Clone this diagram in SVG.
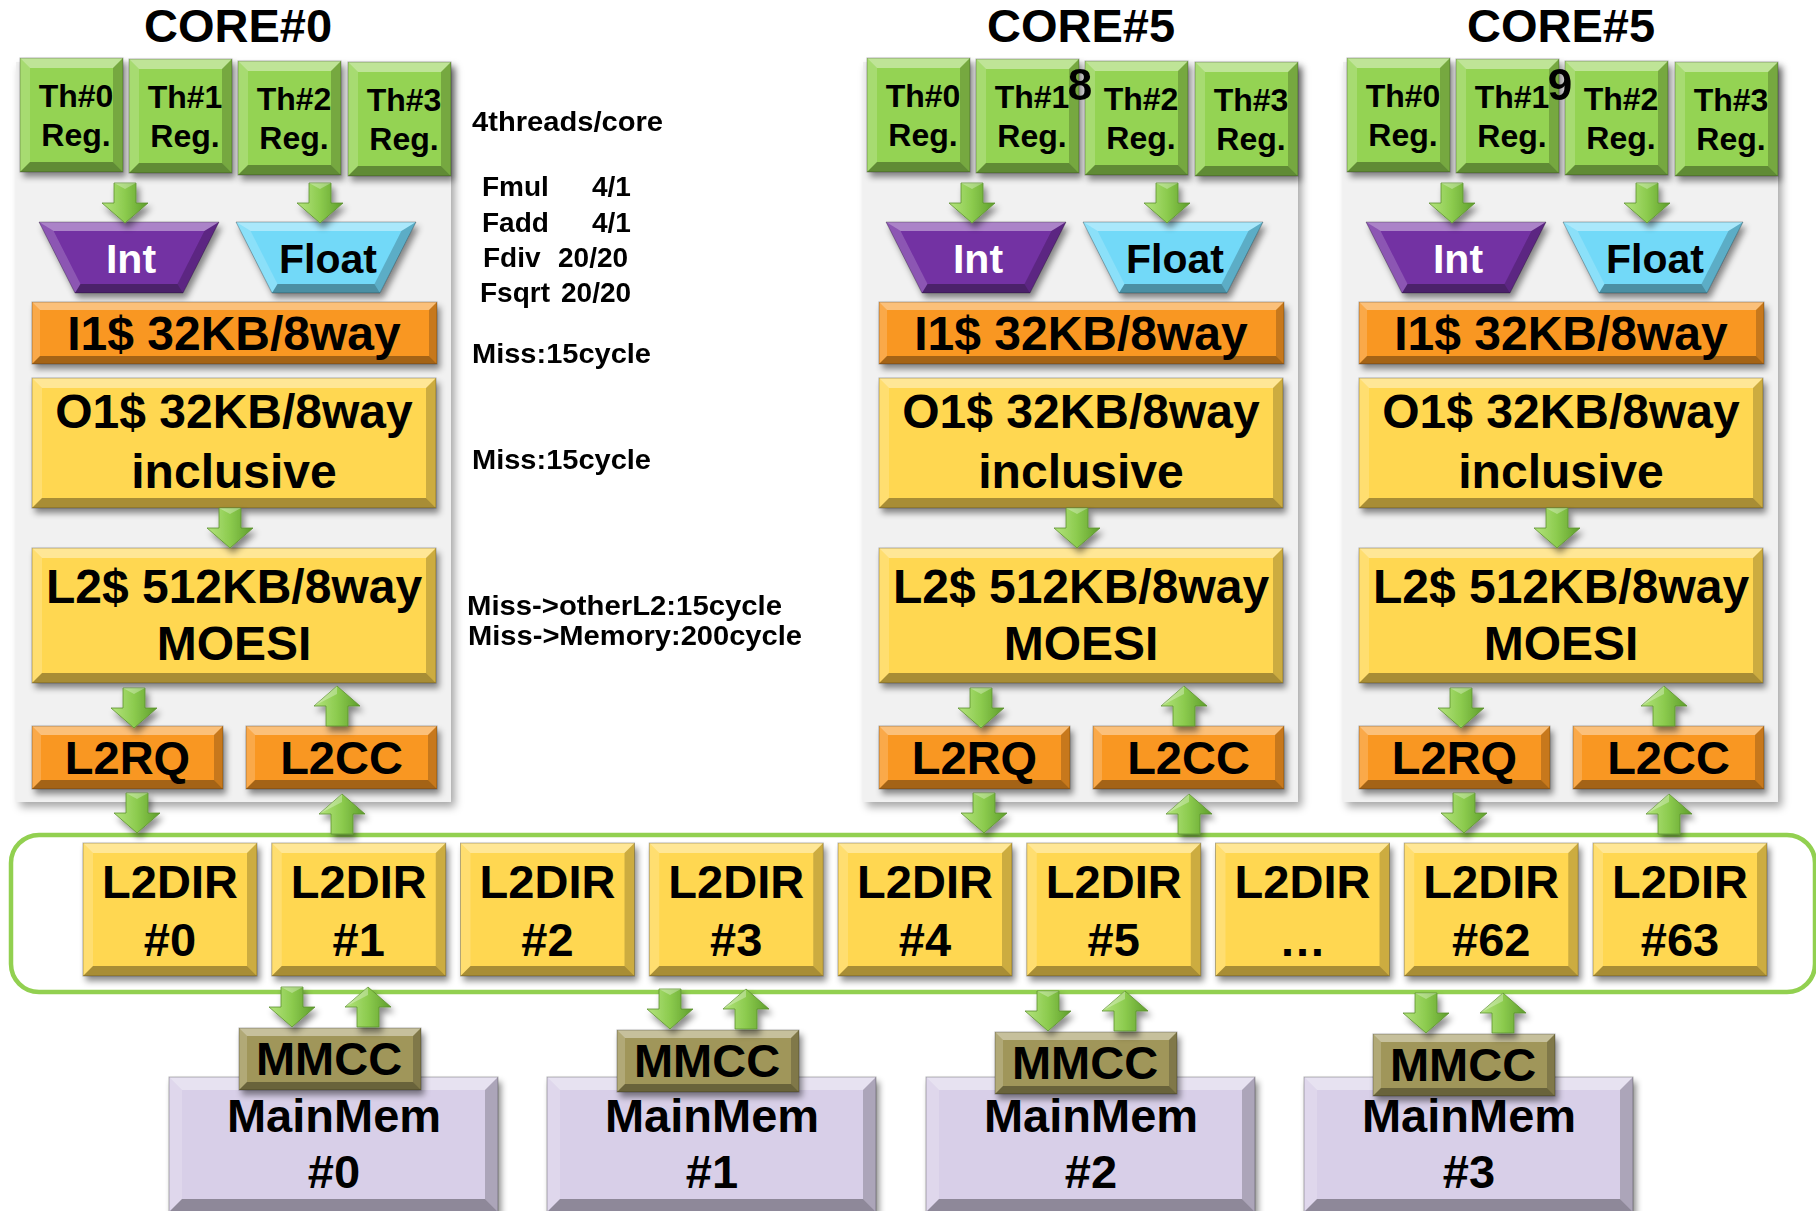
<svg xmlns="http://www.w3.org/2000/svg" width="1816" height="1211" viewBox="0 0 1816 1211">
<defs>
<style>
.t{font-family:"Liberation Sans",Arial,Helvetica,sans-serif;font-weight:bold;text-anchor:middle;fill:#000}
.n{font-family:"Liberation Sans",Arial,Helvetica,sans-serif;font-weight:bold;font-size:28px;fill:#000}
.f32{font-size:32px}.f41{font-size:41px}.f44{font-size:44px}.f47{font-size:47px}.f48{font-size:48px}
.w{fill:#fff}
.gr{fill:#94D352}.or{fill:#F99722}.ye{fill:#FFD751}.pu{fill:#7331A3}.cy{fill:#72D9F8}.olv{fill:#A0965A}.lv{fill:#D8CFE8}
.bt{fill:#fff;fill-opacity:.4}
.bl{fill:#fff;fill-opacity:.18}
.br{fill:#000;fill-opacity:.2}
.bb{fill:#000;fill-opacity:.34}
.ol{fill:none;stroke:#000;stroke-opacity:.28;stroke-width:1}
.panel{fill:#F1F1F1}
.bus{fill:none;stroke:#92D050;stroke-width:4.5}
.arr{fill:url(#ag);stroke:#5C8F2E;stroke-width:.8}
</style>
<filter id="sh" x="-10%" y="-10%" width="125%" height="135%"><feDropShadow dx="3" dy="5" stdDeviation="3" flood-color="#000" flood-opacity=".45"/></filter>
<filter id="psh" x="-5%" y="-5%" width="115%" height="112%"><feDropShadow dx="4" dy="5" stdDeviation="4" flood-color="#000" flood-opacity=".35"/></filter>
<linearGradient id="ag" x1="0" y1="0" x2="1" y2="0"><stop offset="0" stop-color="#B4E47E"/><stop offset=".5" stop-color="#8CCB4E"/><stop offset="1" stop-color="#5E9E2C"/></linearGradient>
<g id="adn"><polygon class="arr" points="-11,0 11,0 11,20 23,20 0,40 -23,20 -11,20"/><polygon points="-11,0 11,0 0,6" fill="#fff" fill-opacity=".3"/></g>
<g id="aup"><polygon class="arr" points="-11,0 11,0 11,-20 23,-20 0,-40 -23,-20 -11,-20"/><polygon points="-23,-20 0,-40 0,-32" fill="#fff" fill-opacity=".3"/></g>
<g id="thb"><rect width="103" height="114" class="gr"/><polygon class="bt" points="0,0 103,0 93,10 10,10"/><polygon class="bl" points="0,0 10,10 10,104 0,114"/><polygon class="br" points="103,0 103,114 93,104 93,10"/><polygon class="bb" points="0,114 10,104 93,104 103,114"/><rect width="103" height="114" class="ol"/></g>
<g id="intb"><polygon class="pu" points="0,0 180,0 144,71 36,71"/><polygon class="bt" points="0,0 180,0 165.4,9 14.6,9"/><polygon class="bl" points="0,0 14.6,9 41.5,62 36,71"/><polygon class="br" points="180,0 144,71 138.5,62 165.4,9"/><polygon class="bb" points="36,71 41.5,62 138.5,62 144,71"/><polygon class="ol" points="0,0 180,0 144,71 36,71"/></g>
<g id="fltb"><polygon class="cy" points="0,0 180,0 144,71 36,71"/><polygon class="bt" points="0,0 180,0 165.4,9 14.6,9"/><polygon class="bl" points="0,0 14.6,9 41.5,62 36,71"/><polygon class="br" points="180,0 144,71 138.5,62 165.4,9"/><polygon class="bb" points="36,71 41.5,62 138.5,62 144,71"/><polygon class="ol" points="0,0 180,0 144,71 36,71"/></g>
<g id="i1b"><rect width="405" height="62" class="or"/><polygon class="bt" points="0,0 405,0 397,8 8,8"/><polygon class="bl" points="0,0 8,8 8,54 0,62"/><polygon class="br" points="405,0 405,62 397,54 397,8"/><polygon class="bb" points="0,62 8,54 397,54 405,62"/><rect width="405" height="62" class="ol"/></g>
<g id="o1b"><rect width="404" height="130" class="ye"/><polygon class="bt" points="0,0 404,0 394,10 10,10"/><polygon class="bl" points="0,0 10,10 10,120 0,130"/><polygon class="br" points="404,0 404,130 394,120 394,10"/><polygon class="bb" points="0,130 10,120 394,120 404,130"/><rect width="404" height="130" class="ol"/></g>
<g id="l2b"><rect width="404" height="135" class="ye"/><polygon class="bt" points="0,0 404,0 394,10 10,10"/><polygon class="bl" points="0,0 10,10 10,125 0,135"/><polygon class="br" points="404,0 404,135 394,125 394,10"/><polygon class="bb" points="0,135 10,125 394,125 404,135"/><rect width="404" height="135" class="ol"/></g>
<g id="rqb"><rect width="191" height="63" class="or"/><polygon class="bt" points="0,0 191,0 182,9 9,9"/><polygon class="bl" points="0,0 9,9 9,54 0,63"/><polygon class="br" points="191,0 191,63 182,54 182,9"/><polygon class="bb" points="0,63 9,54 182,54 191,63"/><rect width="191" height="63" class="ol"/></g>
<g id="dirb"><rect width="174" height="133" class="ye"/><polygon class="bt" points="0,0 174,0 164,10 10,10"/><polygon class="bl" points="0,0 10,10 10,123 0,133"/><polygon class="br" points="174,0 174,133 164,123 164,10"/><polygon class="bb" points="0,133 10,123 164,123 174,133"/><rect width="174" height="133" class="ol"/></g>
<g id="mmb"><rect width="182" height="62" class="olv"/><polygon class="bt" points="0,0 182,0 174,8 8,8"/><polygon class="bl" points="0,0 8,8 8,54 0,62"/><polygon class="br" points="182,0 182,62 174,54 174,8"/><polygon class="bb" points="0,62 8,54 174,54 182,62"/><rect width="182" height="62" class="ol"/></g>
<g id="mainb"><rect width="329" height="135" class="lv"/><polygon class="bt" points="0,0 329,0 316,13 13,13"/><polygon class="bl" points="0,0 13,13 13,122 0,135"/><polygon class="br" points="329,0 329,135 316,122 316,13"/><polygon class="bb" points="0,135 13,122 316,122 329,135"/><rect width="329" height="135" class="ol"/></g>
</defs>
<rect width="1816" height="1211" fill="#fff"/>

<!-- core panels -->
<g id="panels">
<rect id="panel-core0" x="16" y="62" width="435" height="740" class="panel" filter="url(#psh)"/>
<rect id="panel-core5a" x="863" y="62" width="435" height="740" class="panel" filter="url(#psh)"/>
<rect id="panel-core5b" x="1343" y="62" width="435" height="740" class="panel" filter="url(#psh)"/>
</g>

<!-- titles -->
<g id="titles">
<text class="t f47" x="238" y="42">CORE#0</text>
<text class="t f47" x="1081" y="42">CORE#5</text>
<text class="t f47" x="1561" y="42">CORE#5</text>
</g>

<!-- CORE#0 -->
<g id="c0-th0"><use href="#thb" x="20" y="58" filter="url(#sh)"/><text class="t f32" x="76" y="107">Th#0</text><text class="t f32" x="76" y="146">Reg.</text></g>
<g id="c0-th1"><use href="#thb" x="129" y="59" filter="url(#sh)"/><text class="t f32" x="185" y="108">Th#1</text><text class="t f32" x="185" y="147">Reg.</text></g>
<g id="c0-th2"><use href="#thb" x="238" y="61" filter="url(#sh)"/><text class="t f32" x="294" y="110">Th#2</text><text class="t f32" x="294" y="149">Reg.</text></g>
<g id="c0-th3"><use href="#thb" x="348" y="62" filter="url(#sh)"/><text class="t f32" x="404" y="111">Th#3</text><text class="t f32" x="404" y="150">Reg.</text></g>
<g id="c0-int"><use href="#intb" x="39" y="222" filter="url(#sh)"/><text class="t f41 w" x="131" y="273">Int</text></g>
<g id="c0-float"><use href="#fltb" x="236" y="222" filter="url(#sh)"/><text class="t f41" x="328" y="273">Float</text></g>
<g id="c0-i1"><use href="#i1b" x="32" y="302" filter="url(#sh)"/><text class="t f48" x="234" y="350">I1$ 32KB/8way</text></g>
<g id="c0-o1"><use href="#o1b" x="32" y="378" filter="url(#sh)"/><text class="t f48" x="234" y="428">O1$ 32KB/8way</text><text class="t f48" x="234" y="488">inclusive</text></g>
<g id="c0-l2"><use href="#l2b" x="32" y="548" filter="url(#sh)"/><text class="t f48" x="234" y="603">L2$ 512KB/8way</text><text class="t f48" x="234" y="660">MOESI</text></g>
<g id="c0-l2rq"><use href="#rqb" x="32" y="726" filter="url(#sh)"/><text class="t f47" x="127.5" y="774">L2RQ</text></g>
<g id="c0-l2cc"><use href="#rqb" x="246" y="726" filter="url(#sh)"/><text class="t f47" x="341.5" y="774">L2CC</text></g>

<!-- CORE#5 (middle) -->
<g id="c5a-th0"><use href="#thb" x="867" y="58" filter="url(#sh)"/><text class="t f32" x="923" y="107">Th#0</text><text class="t f32" x="923" y="146">Reg.</text></g>
<g id="c5a-th1"><use href="#thb" x="976" y="59" filter="url(#sh)"/><text class="t f32" x="1032" y="108">Th#1</text><text class="t f32" x="1032" y="147">Reg.</text></g>
<g id="c5a-th2"><use href="#thb" x="1085" y="61" filter="url(#sh)"/><text class="t f32" x="1141" y="110">Th#2</text><text class="t f32" x="1141" y="149">Reg.</text></g>
<g id="c5a-th3"><use href="#thb" x="1195" y="62" filter="url(#sh)"/><text class="t f32" x="1251" y="111">Th#3</text><text class="t f32" x="1251" y="150">Reg.</text></g>
<g id="c5a-int"><use href="#intb" x="886" y="222" filter="url(#sh)"/><text class="t f41 w" x="978" y="273">Int</text></g>
<g id="c5a-float"><use href="#fltb" x="1083" y="222" filter="url(#sh)"/><text class="t f41" x="1175" y="273">Float</text></g>
<g id="c5a-i1"><use href="#i1b" x="879" y="302" filter="url(#sh)"/><text class="t f48" x="1081" y="350">I1$ 32KB/8way</text></g>
<g id="c5a-o1"><use href="#o1b" x="879" y="378" filter="url(#sh)"/><text class="t f48" x="1081" y="428">O1$ 32KB/8way</text><text class="t f48" x="1081" y="488">inclusive</text></g>
<g id="c5a-l2"><use href="#l2b" x="879" y="548" filter="url(#sh)"/><text class="t f48" x="1081" y="603">L2$ 512KB/8way</text><text class="t f48" x="1081" y="660">MOESI</text></g>
<g id="c5a-l2rq"><use href="#rqb" x="879" y="726" filter="url(#sh)"/><text class="t f47" x="974.5" y="774">L2RQ</text></g>
<g id="c5a-l2cc"><use href="#rqb" x="1093" y="726" filter="url(#sh)"/><text class="t f47" x="1188.5" y="774">L2CC</text></g>

<!-- CORE#5 (right) -->
<g id="c5b-th0"><use href="#thb" x="1347" y="58" filter="url(#sh)"/><text class="t f32" x="1403" y="107">Th#0</text><text class="t f32" x="1403" y="146">Reg.</text></g>
<g id="c5b-th1"><use href="#thb" x="1456" y="59" filter="url(#sh)"/><text class="t f32" x="1512" y="108">Th#1</text><text class="t f32" x="1512" y="147">Reg.</text></g>
<g id="c5b-th2"><use href="#thb" x="1565" y="61" filter="url(#sh)"/><text class="t f32" x="1621" y="110">Th#2</text><text class="t f32" x="1621" y="149">Reg.</text></g>
<g id="c5b-th3"><use href="#thb" x="1675" y="62" filter="url(#sh)"/><text class="t f32" x="1731" y="111">Th#3</text><text class="t f32" x="1731" y="150">Reg.</text></g>
<g id="c5b-int"><use href="#intb" x="1366" y="222" filter="url(#sh)"/><text class="t f41 w" x="1458" y="273">Int</text></g>
<g id="c5b-float"><use href="#fltb" x="1563" y="222" filter="url(#sh)"/><text class="t f41" x="1655" y="273">Float</text></g>
<g id="c5b-i1"><use href="#i1b" x="1359" y="302" filter="url(#sh)"/><text class="t f48" x="1561" y="350">I1$ 32KB/8way</text></g>
<g id="c5b-o1"><use href="#o1b" x="1359" y="378" filter="url(#sh)"/><text class="t f48" x="1561" y="428">O1$ 32KB/8way</text><text class="t f48" x="1561" y="488">inclusive</text></g>
<g id="c5b-l2"><use href="#l2b" x="1359" y="548" filter="url(#sh)"/><text class="t f48" x="1561" y="603">L2$ 512KB/8way</text><text class="t f48" x="1561" y="660">MOESI</text></g>
<g id="c5b-l2rq"><use href="#rqb" x="1359" y="726" filter="url(#sh)"/><text class="t f47" x="1454.5" y="774">L2RQ</text></g>
<g id="c5b-l2cc"><use href="#rqb" x="1573" y="726" filter="url(#sh)"/><text class="t f47" x="1668.5" y="774">L2CC</text></g>

<!-- L2DIR ring -->
<g id="l2dir-ring"><rect x="11" y="835" width="1804" height="157" rx="28" class="bus"/></g>
<g id="l2dir0"><use href="#dirb" x="83" y="843" filter="url(#sh)"/><text class="t f47" x="170" y="898">L2DIR</text><text class="t f47" x="170" y="956">#0</text></g>
<g id="l2dir1"><use href="#dirb" x="271.75" y="843" filter="url(#sh)"/><text class="t f47" x="358.75" y="898">L2DIR</text><text class="t f47" x="358.75" y="956">#1</text></g>
<g id="l2dir2"><use href="#dirb" x="460.5" y="843" filter="url(#sh)"/><text class="t f47" x="547.5" y="898">L2DIR</text><text class="t f47" x="547.5" y="956">#2</text></g>
<g id="l2dir3"><use href="#dirb" x="649.25" y="843" filter="url(#sh)"/><text class="t f47" x="736.25" y="898">L2DIR</text><text class="t f47" x="736.25" y="956">#3</text></g>
<g id="l2dir4"><use href="#dirb" x="838" y="843" filter="url(#sh)"/><text class="t f47" x="925" y="898">L2DIR</text><text class="t f47" x="925" y="956">#4</text></g>
<g id="l2dir5"><use href="#dirb" x="1026.75" y="843" filter="url(#sh)"/><text class="t f47" x="1113.75" y="898">L2DIR</text><text class="t f47" x="1113.75" y="956">#5</text></g>
<g id="l2dir-etc"><use href="#dirb" x="1215.5" y="843" filter="url(#sh)"/><text class="t f47" x="1302.5" y="898">L2DIR</text><text class="t f47" x="1302.5" y="956">…</text></g>
<g id="l2dir62"><use href="#dirb" x="1404.25" y="843" filter="url(#sh)"/><text class="t f47" x="1491.25" y="898">L2DIR</text><text class="t f47" x="1491.25" y="956">#62</text></g>
<g id="l2dir63"><use href="#dirb" x="1593" y="843" filter="url(#sh)"/><text class="t f47" x="1680" y="898">L2DIR</text><text class="t f47" x="1680" y="956">#63</text></g>

<!-- Main memories -->
<g id="mainmem0"><use href="#mainb" x="169" y="1077" filter="url(#sh)"/><text class="t f47" x="334" y="1132">MainMem</text><text class="t f47" x="334" y="1188">#0</text></g>
<g id="mainmem1"><use href="#mainb" x="547" y="1077" filter="url(#sh)"/><text class="t f47" x="712" y="1132">MainMem</text><text class="t f47" x="712" y="1188">#1</text></g>
<g id="mainmem2"><use href="#mainb" x="926" y="1077" filter="url(#sh)"/><text class="t f47" x="1091" y="1132">MainMem</text><text class="t f47" x="1091" y="1188">#2</text></g>
<g id="mainmem3"><use href="#mainb" x="1304" y="1077" filter="url(#sh)"/><text class="t f47" x="1469" y="1132">MainMem</text><text class="t f47" x="1469" y="1188">#3</text></g>
<g id="mmcc0"><use href="#mmb" x="239" y="1028" filter="url(#sh)"/><text class="t f47" x="329" y="1075">MMCC</text></g>
<g id="mmcc1"><use href="#mmb" x="617" y="1030" filter="url(#sh)"/><text class="t f47" x="707" y="1077">MMCC</text></g>
<g id="mmcc2"><use href="#mmb" x="995" y="1032" filter="url(#sh)"/><text class="t f47" x="1085" y="1079">MMCC</text></g>
<g id="mmcc3"><use href="#mmb" x="1373" y="1034" filter="url(#sh)"/><text class="t f47" x="1463" y="1081">MMCC</text></g>

<!-- connectors -->
<g id="connectors" filter="url(#sh)">
<use href="#adn" x="125" y="183"/><use href="#adn" x="320" y="183"/><use href="#adn" x="230" y="508"/><use href="#adn" x="134" y="688"/><use href="#adn" x="137" y="793"/><use href="#aup" x="337" y="726"/><use href="#aup" x="342" y="834"/>
<use href="#adn" x="972" y="183"/><use href="#adn" x="1167" y="183"/><use href="#adn" x="1077" y="508"/><use href="#adn" x="981" y="688"/><use href="#adn" x="984" y="793"/><use href="#aup" x="1184" y="726"/><use href="#aup" x="1189" y="834"/>
<use href="#adn" x="1452" y="183"/><use href="#adn" x="1647" y="183"/><use href="#adn" x="1557" y="508"/><use href="#adn" x="1461" y="688"/><use href="#adn" x="1464" y="793"/><use href="#aup" x="1664" y="726"/><use href="#aup" x="1669" y="834"/>
<use href="#adn" x="292" y="987"/><use href="#aup" x="368" y="1027"/>
<use href="#adn" x="670" y="989"/><use href="#aup" x="746" y="1029"/>
<use href="#adn" x="1048" y="991"/><use href="#aup" x="1125" y="1031"/>
<use href="#adn" x="1426" y="993"/><use href="#aup" x="1503" y="1033"/>
</g>

<!-- annotations -->
<g id="notes">
<text class="n" x="472" y="131" textLength="191" lengthAdjust="spacingAndGlyphs">4threads/core</text>
<text class="n" y="196"><tspan x="482">Fmul</tspan> <tspan x="592">4/1</tspan></text>
<text class="n" y="232"><tspan x="482">Fadd</tspan> <tspan x="592">4/1</tspan></text>
<text class="n" y="267"><tspan x="483">Fdiv</tspan> <tspan x="558">20/20</tspan></text>
<text class="n" y="302"><tspan x="480">Fsqrt</tspan> <tspan x="561">20/20</tspan></text>
<text class="n" x="472" y="363" textLength="179" lengthAdjust="spacingAndGlyphs">Miss:15cycle</text>
<text class="n" x="472" y="469" textLength="179" lengthAdjust="spacingAndGlyphs">Miss:15cycle</text>
<text class="n" x="467" y="615" textLength="315" lengthAdjust="spacingAndGlyphs">Miss-&gt;otherL2:15cycle</text>
<text class="n" x="468" y="645" textLength="334" lengthAdjust="spacingAndGlyphs">Miss-&gt;Memory:200cycle</text>
<text class="t f44" x="1080" y="100">8</text>
<text class="t f44" x="1560" y="100">9</text>
</g>
</svg>
